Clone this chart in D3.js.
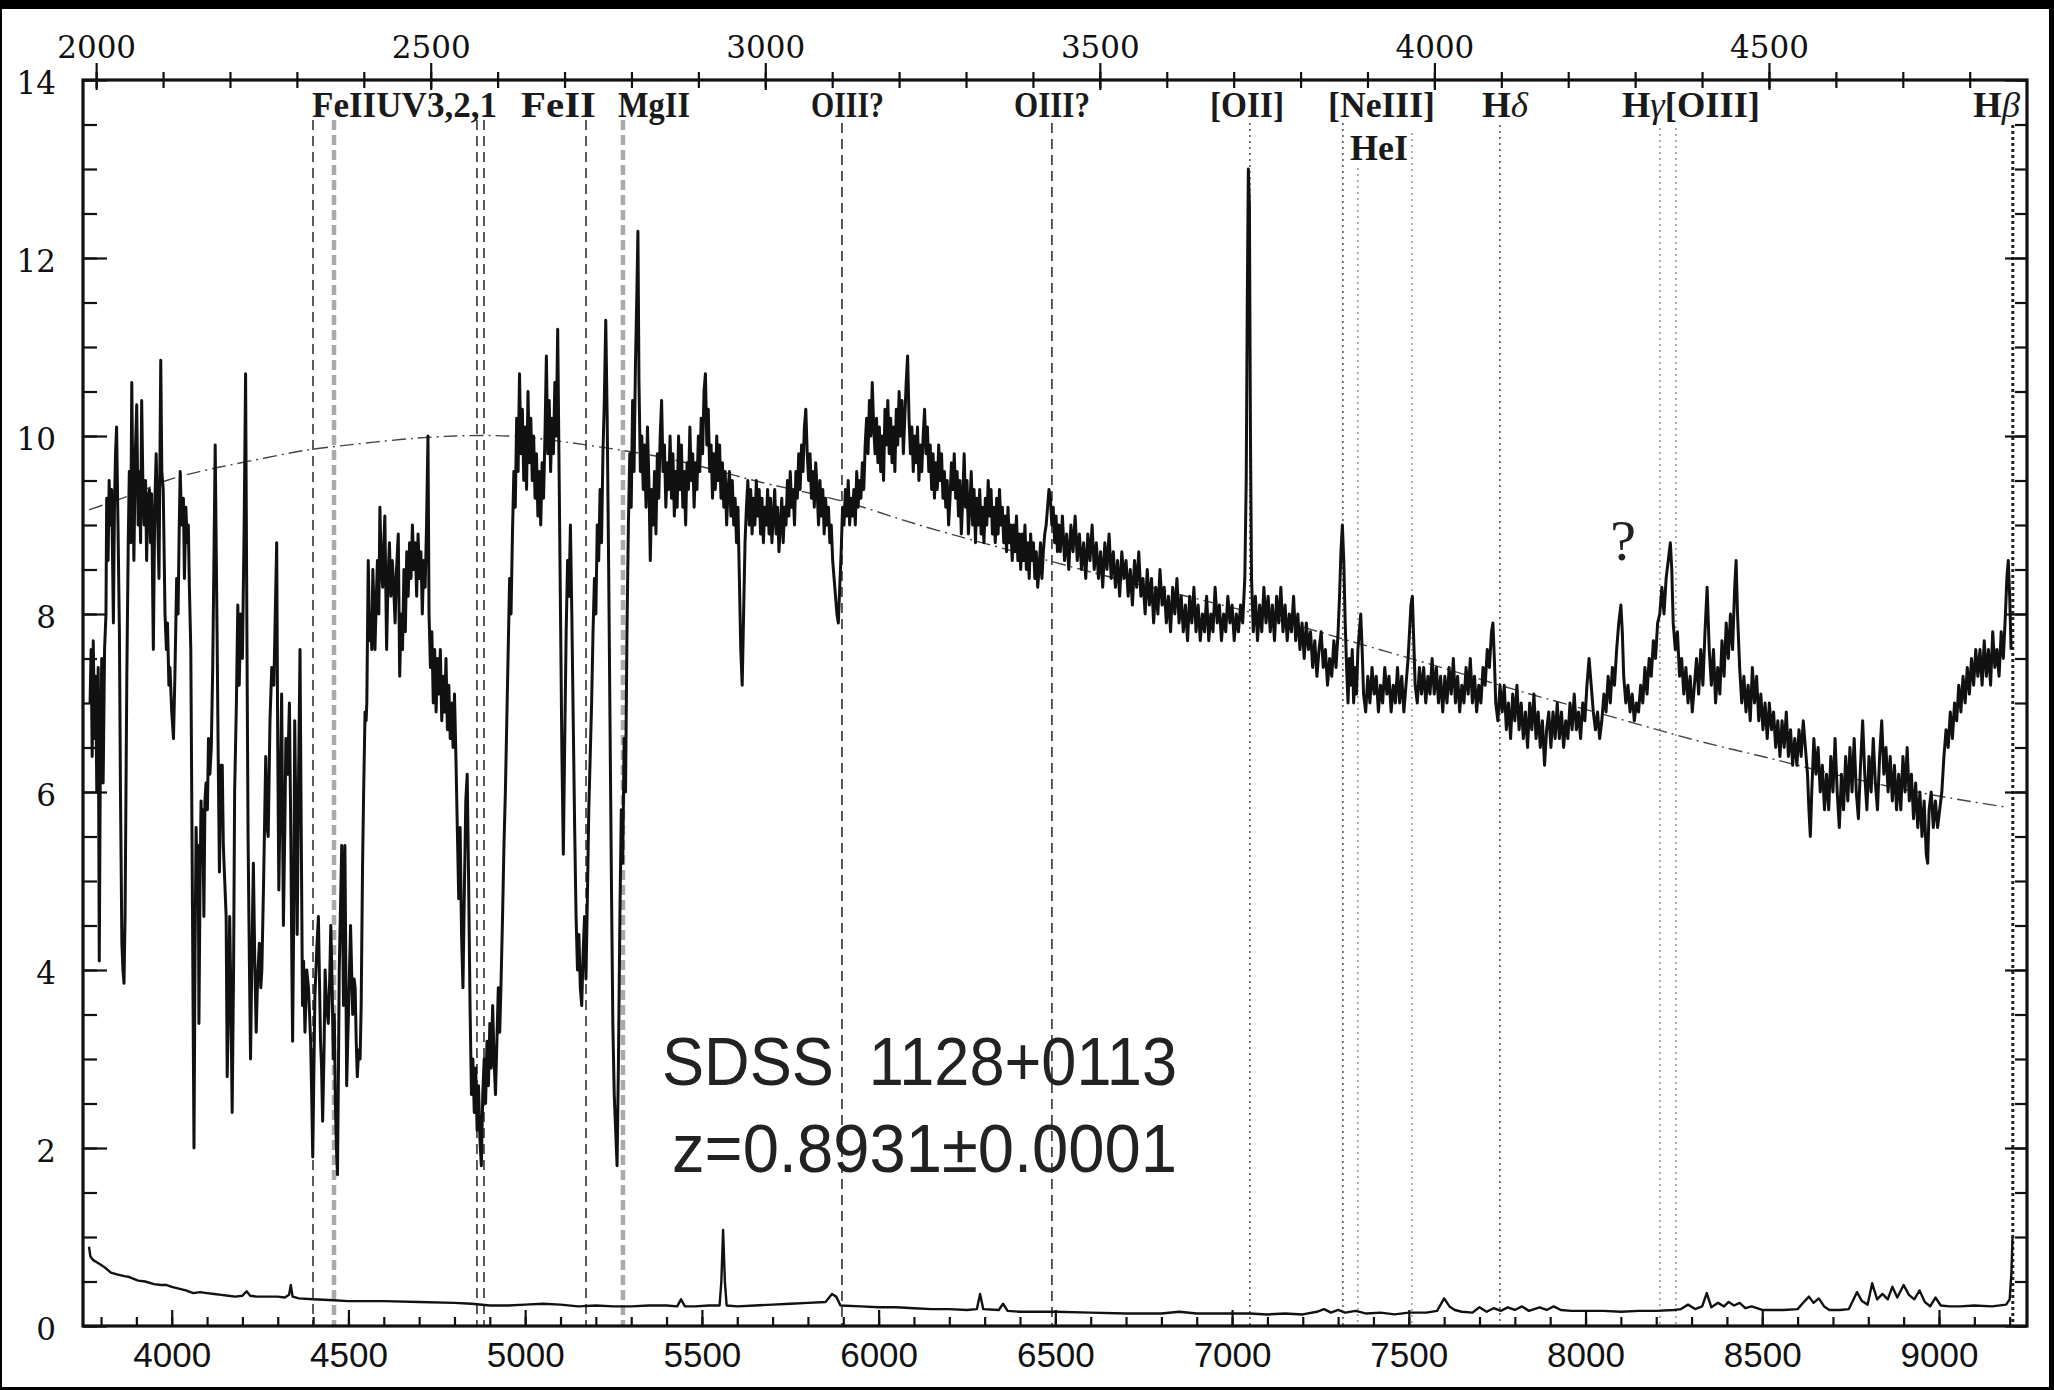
<!DOCTYPE html>
<html><head><meta charset="utf-8">
<script src="https://cdn.jsdelivr.net/npm/d3@7"></script>
<style>
html,body{margin:0;padding:0;background:#fff;}
svg{display:block;}
</style></head><body>
<svg id="chart" width="2054" height="1390"></svg>
<script>
// ---------------- data ----------------
const redshift = 0.8931;
const obsTickLabels = [4000,4500,5000,5500,6000,6500,7000,7500,8000,8500,9000];
const restTickLabels = [2000,2500,3000,3500,4000,4500];
const fluxTickLabels = [0,2,4,6,8,10,12,14];

// observed wavelength (A), flux
const spectrum = [
[3769,7.0],[3772,7.6],[3775,6.4],[3778,7.7],[3782,6.6],[3785,7.3],[3788,6.0],[3792,7.4],[3795,4.1],[3798,6.3],[3802,7.5],[3806,6.1],[3810,7.6],[3814,8.0],[3816,9.3],[3820,8.6],[3823,9.5],[3826,9.0],[3830,9.4],[3835,7.9],[3838,9.2],[3841,9.8],[3844,10.1],[3848,9.0],[3852,7.8],[3855,6.0],[3859,4.3],[3862,4.0],[3865,3.85],[3868,4.6],[3873,7.3],[3877,8.8],[3880,9.6],[3884,8.8],[3887,10.6],[3890,9.4],[3893,8.6],[3897,9.8],[3901,10.35],[3905,9.0],[3908,9.6],[3912,8.8],[3915,10.4],[3919,9.3],[3922,9.0],[3926,9.5],[3929,8.6],[3933,9.3],[3937,9.4],[3940,8.8],[3943,9.35],[3948,7.6],[3952,9.2],[3956,9.8],[3960,9.1],[3964,8.4],[3969,10.85],[3972,9.6],[3976,9.4],[3981,8.0],[3985,7.6],[3988,7.9],[3992,7.2],[3995,7.4],[4000,6.9],[4005,6.6],[4009,7.3],[4014,8.4],[4018,8.0],[4021,8.9],[4024,9.6],[4028,9.0],[4033,9.3],[4036,8.4],[4040,9.2],[4044,8.8],[4047,9.0],[4050,8.3],[4054,7.6],[4059,4.5],[4063,2.0],[4066,4.2],[4069,5.6],[4072,5.0],[4075,5.4],[4077,3.4],[4080,4.9],[4083,5.9],[4086,5.3],[4088,5.8],[4091,4.6],[4094,5.9],[4097,6.1],[4101,5.8],[4104,6.6],[4108,6.2],[4112,6.5],[4116,7.4],[4120,8.8],[4123,9.9],[4126,8.7],[4129,7.5],[4132,6.2],[4135,5.1],[4139,6.3],[4143,6.3],[4146,5.4],[4150,5.0],[4154,4.6],[4157,2.8],[4160,3.5],[4164,4.6],[4167,3.8],[4171,2.4],[4175,4.0],[4178,6.0],[4183,7.0],[4187,8.1],[4191,7.2],[4195,8.0],[4200,7.5],[4205,9.0],[4209,10.7],[4213,7.6],[4216,5.5],[4220,4.0],[4223,3.0],[4227,4.2],[4231,5.2],[4235,4.1],[4239,3.3],[4243,3.9],[4248,4.3],[4252,3.8],[4255,4.0],[4260,5.0],[4266,6.4],[4270,5.6],[4273,5.5],[4278,6.8],[4283,7.4],[4289,7.2],[4293,8.0],[4297,8.8],[4300,6.5],[4303,4.9],[4307,6.0],[4311,7.1],[4314,5.5],[4316,4.5],[4320,5.6],[4323,6.6],[4328,6.2],[4333,7.0],[4337,5.5],[4340,4.0],[4342,3.2],[4345,4.5],[4348,6.8],[4352,5.5],[4355,4.4],[4359,6.2],[4363,7.6],[4366,5.8],[4370,3.6],[4373,4.1],[4377,3.3],[4382,4.0],[4387,3.8],[4390,3.5],[4393,3.2],[4396,2.6],[4399,1.9],[4402,2.8],[4405,3.7],[4410,4.2],[4415,4.6],[4418,3.9],[4421,3.2],[4424,2.9],[4427,2.3],[4431,3.1],[4434,4.0],[4438,3.6],[4443,3.4],[4447,3.9],[4450,4.5],[4454,3.8],[4457,3.0],[4460,3.5],[4463,2.5],[4466,2.0],[4469,1.7],[4472,3.0],[4474,4.0],[4478,4.8],[4481,5.4],[4484,4.4],[4486,3.6],[4488,4.6],[4490,5.4],[4493,3.8],[4495,2.7],[4498,3.2],[4500,3.5],[4503,4.0],[4506,4.5],[4509,4.0],[4512,3.5],[4516,3.9],[4519,3.8],[4522,3.2],[4525,2.8],[4529,3.1],[4533,3.0],[4536,3.6],[4540,5.2],[4543,6.0],[4547,6.9],[4550,6.8],[4552,7.0],[4556,8.6],[4560,7.7],[4563,8.0],[4566,7.6],[4569,8.5],[4572,8.1],[4575,7.6],[4579,8.2],[4582,8.6],[4586,8.0],[4589,9.2],[4593,8.5],[4597,8.3],[4600,8.8],[4603,9.1],[4606,8.2],[4608,7.6],[4612,8.4],[4616,8.8],[4620,8.2],[4624,8.6],[4627,8.4],[4632,7.9],[4636,8.5],[4641,8.9],
[4645,7.3],[4649,8.0],[4653,7.6],[4657,8.5],[4661,7.8],[4665,8.7],[4669,8.2],[4673,8.8],[4677,8.4],[4681,9.0],[4685,8.5],[4689,8.8],[4693,8.2],[4697,8.9],[4701,8.4],[4705,8.7],[4709,8.0],[4713,8.6],[4717,8.3],[4721,9.0],[4725,10.0],[4728,8.0],[4732,7.4],[4736,7.8],[4740,7.0],[4744,7.6],[4748,6.9],[4752,7.5],[4756,7.1],[4760,7.6],[4764,6.8],[4768,7.3],[4772,6.9],[4776,7.5],[4780,6.7],[4784,7.2],[4788,6.6],[4792,7.0],[4796,6.5],[4800,7.1],[4804,6.4],[4808,5.6],[4812,4.8],[4816,5.6],[4820,4.4],[4824,3.8],[4828,4.9],[4832,5.9],[4836,6.2],[4840,5.0],[4844,3.6],[4848,2.6],[4852,3.0],[4856,2.4],[4860,2.9],[4864,2.2],[4868,2.7],[4872,2.1],[4876,1.8],[4880,2.6],[4884,3.0],[4888,2.5],[4892,3.2],[4896,2.7],[4900,3.4],[4904,2.9],[4908,3.6],[4912,3.0],[4916,2.6],[4920,3.2],[4924,3.8],[4928,3.3],[4932,3.9],[4936,4.6],[4940,5.4],[4944,6.0],[4948,6.8],[4952,7.6],[4956,8.4],[4960,8.0],[4964,8.9],[4968,9.6],[4972,9.2],[4976,10.2],[4980,9.6],[4984,10.7],[4988,9.8],[4992,10.3],[4996,9.5],[5000,10.1],[5004,9.4],[5008,10.5],[5012,9.7],[5016,10.2],[5020,9.5],[5024,10.0],[5028,9.3],[5032,9.8],[5036,9.1],[5040,9.6],[5044,9.0],[5048,9.7],[5052,9.3],[5056,10.0],[5060,10.9],[5064,9.8],[5068,10.4],[5072,9.6],[5076,10.2],[5080,9.8],[5084,10.6],[5088,10.0],[5092,11.2],[5096,9.6],[5100,8.0],[5104,6.4],[5108,5.3],[5112,6.6],[5116,7.8],[5120,8.6],[5124,8.2],[5128,9.0],[5132,8.0],[5136,6.8],[5140,5.6],[5144,4.6],[5148,4.0],[5152,4.4],[5156,3.8],[5160,3.6],[5164,4.2],[5168,4.6],[5172,3.9],[5176,4.8],[5180,5.8],[5184,6.4],[5188,7.0],[5192,7.8],[5196,8.4],[5200,8.0],[5204,9.0],[5208,8.6],[5212,9.4],[5216,8.8],[5220,9.8],[5224,10.4],[5228,11.3],[5232,10.2],[5236,8.6],[5240,6.8],[5244,5.0],[5248,3.4],[5252,2.6],[5256,2.2],[5260,1.8],[5264,3.0],[5268,4.6],[5272,5.8],[5276,5.2],[5280,6.6],[5284,6.0],[5288,7.8],[5292,9.0],[5296,9.8],[5300,9.2],[5304,10.4],[5308,9.6],[5312,10.8],[5316,11.6],[5319,12.3],[5322,10.6],[5326,9.6],[5330,10.0],[5334,9.4],[5338,9.9],[5342,9.2],[5346,10.1],[5350,9.5],[5354,8.6],[5358,9.4],[5362,9.0],[5366,9.6],[5370,8.9],[5374,9.8],[5378,9.3],[5382,10.0],[5386,10.4],[5390,9.6],[5394,9.9],[5398,9.2],[5402,9.7],[5406,9.4],[5410,10.0],[5414,9.3],[5418,9.8],[5422,9.1],[5426,9.6],[5430,9.2],[5434,10.0],[5438,9.4],[5442,9.9],[5446,9.2],[5450,9.6],[5454,9.0],[5458,9.7],[5462,9.4],[5466,10.1],[5470,9.5],[5474,9.8],[5478,9.2],[5482,9.7],[5486,9.4],[5490,10.0],[5494,9.6],[5498,10.2],[5502,9.8],[5506,10.5],[5510,10.7],[5514,9.9],[5518,10.3],[5522,9.6],[5526,9.9],[5530,9.3],[5534,9.8],[5538,9.4],[5542,10.0],[5546,9.5],[5550,9.9],[5554,9.3],[5558,9.7],[5562,9.2],[5566,9.6],[5570,9.0],[5574,9.4],[5578,9.6],[5582,9.1],[5586,9.5],[5590,9.0],[5594,9.3],[5598,8.8],[5602,9.2],[5606,8.4],[5610,7.6],[5614,7.2],[5618,8.0],[5622,8.8],[5626,9.2],[5630,9.5],[5634,9.0],[5638,9.4],[5642,8.9],[5646,9.3],[5650,9.0],[5654,9.5],[5658,9.1],[5662,9.4],[5666,8.9],[5670,9.3],[5674,8.8],[5678,9.2],[5682,9.0],[5686,9.4],[5690,8.9],[5694,9.3],[5698,8.8],[5702,9.1],[5706,9.4],[5710,8.9],[5714,9.2],[5718,8.7],[5722,9.0],[5726,9.3],[5730,8.8],[5734,9.2],[5738,9.0],[5742,9.5],[5746,9.1],[5750,9.6],[5754,9.2],[5758,9.4],[5762,9.0],[5766,9.6],[5770,9.3],[5774,9.8],[5778,9.4],[5782,9.9],[5786,9.6],[5790,10.1],[5794,10.3],[5798,9.8],[5802,9.5],[5806,9.8],[5810,9.3],[5814,9.6],[5818,9.2],[5822,9.7],[5826,9.4],[5830,9.0],[5834,9.5],[5838,9.1],[5842,9.4],[5846,8.9],[5850,9.3],[5854,9.0],[5858,9.2],[5862,8.8],[5866,9.0],[5870,8.6],[5874,8.4],[5878,8.2],[5882,8.0],[5886,7.9],[5890,8.3],[5894,8.7],[5898,9.2],[5902,9.0],[5906,9.4],[5910,9.1],[5914,9.5],[5918,9.0],[5922,9.3],[5926,9.1],[5930,9.4],[5934,9.0],[5938,9.6],[5942,9.2],[5946,9.5],[5950,9.3],[5954,9.7],[5958,9.4],[5962,9.9],[5966,10.2],[5970,9.8],[5974,10.4],[5978,10.0],[5982,10.6],[5986,10.1],[5990,9.8],[5994,10.2],[5998,9.7],[6002,10.1],[6006,9.6],[6010,10.0],[6014,9.5],[6018,10.3],[6022,9.9],[6026,10.4],[6030,9.8],[6034,10.2],[6038,9.7],[6042,10.1],[6046,9.6],[6050,10.3],[6054,9.9],[6058,10.5],[6062,10.0],[6066,10.4],[6070,9.8],[6074,10.2],[6078,10.6],[6082,10.9],[6086,10.2],[6090,9.8],[6094,10.1],[6098,9.6],[6102,10.0],[6106,9.7],[6110,10.1],[6114,9.5],[6118,9.9],[6122,9.6],[6126,10.0],[6130,10.3],[6134,9.8],[6138,10.1],[6142,9.6],[6146,9.9],[6150,9.4],[6154,9.8],[6158,9.3],[6162,9.7],[6166,9.4],[6170,9.9],[6174,9.5],[6178,9.8],[6182,9.3],[6186,9.6],[6190,9.2],[6194,9.5],[6198,9.0],[6202,9.3],[6206,9.7],[6210,9.4],[6214,9.8],[6218,9.3],[6222,9.6],[6226,9.1],[6230,9.5],[6234,8.9],[6238,9.3],[6242,9.8],[6246,9.2],[6250,9.5],[6254,8.9],[6258,9.2],[6262,9.6],[6266,9.0],[6270,9.4],[6274,8.8],[6278,9.3],[6282,9.0],[6286,9.4],[6290,8.9],[6294,9.2],[6298,8.8],[6302,9.3],[6306,9.0],[6310,9.5],[6314,9.1],[6318,9.4],[6322,8.9],[6326,9.2],[6330,8.8],[6334,9.3],[6338,8.9],[6342,9.4],[6346,9.0],[6350,9.2],[6354,8.8],[6358,9.1],[6362,8.7],[6366,9.2],[6370,8.8],[6374,9.0],[6378,8.6],[6382,9.0],[6386,8.7],[6390,9.1],[6394,8.6],[6398,8.9],[6402,8.5],[6406,8.9],[6410,8.6],[6414,9.0],[6418,8.5],[6422,8.8],[6426,8.4],[6430,8.9],[6434,8.6],[6438,8.8],[6442,8.4],[6446,8.7],[6450,8.3],[6454,8.5],[6458,8.8],[6462,8.4],[6466,8.7],[6470,8.9],[6474,9.0],[6478,9.2],[6482,9.4],[6486,9.3],[6490,9.0],[6494,9.2],[6498,8.8],[6502,9.1],[6506,8.7],[6510,9.0],
[6514,8.7],[6520,9.1],[6526,8.6],[6532,8.9],[6538,8.5],[6544,9.0],[6550,8.7],[6556,9.1],[6562,8.6],[6568,8.9],[6574,8.5],[6580,8.8],[6586,8.4],[6592,8.9],[6598,8.6],[6604,9.0],[6610,8.5],[6616,8.8],[6622,8.4],[6628,8.7],[6634,8.3],[6640,8.8],[6646,8.5],[6652,8.9],[6658,8.4],[6664,8.7],[6670,8.3],[6676,8.6],[6682,8.2],[6688,8.7],[6694,8.4],[6700,8.6],[6706,8.2],[6712,8.5],[6718,8.1],[6724,8.6],[6730,8.3],[6736,8.7],[6742,8.2],[6748,8.4],[6754,8.0],[6760,8.5],[6766,8.1],[6772,8.4],[6778,7.9],[6784,8.3],[6790,8.0],[6796,8.5],[6802,8.1],[6808,8.3],[6814,7.9],[6820,8.2],[6826,7.8],[6832,8.3],[6838,8.0],[6844,8.4],[6850,7.9],[6856,8.2],[6862,7.8],[6868,8.1],[6874,7.7],[6880,8.2],[6886,7.9],[6892,8.3],[6898,7.8],[6904,8.1],[6910,7.7],[6916,8.0],[6922,7.8],[6928,8.2],[6934,7.7],[6940,8.0],[6946,7.8],[6952,8.3],[6958,7.9],[6964,8.1],[6970,7.7],[6976,8.0],[6982,7.8],[6988,8.2],[6994,7.9],[7000,8.1],[7006,7.7],[7012,8.0],[7018,7.8],[7024,8.1],[7030,7.9],[7036,8.4],[7040,9.5],[7043,11.5],[7046,13.0],[7049,12.6],[7052,10.0],[7055,8.4],[7060,7.8],[7066,8.2],[7072,7.7],[7078,8.1],[7084,7.8],[7090,8.3],[7096,7.9],[7102,8.2],[7108,7.8],[7114,8.1],[7120,7.7],[7126,8.2],[7132,7.9],[7138,8.3],[7144,7.8],[7150,8.1],[7156,7.7],[7162,8.0],[7168,7.8],[7174,8.2],[7180,7.7],[7186,8.0],[7192,7.6],[7198,7.9],[7204,7.5],[7210,7.9],[7216,7.6],[7222,7.8],[7228,7.4],[7234,7.7],[7240,7.3],[7246,7.6],[7252,7.8],[7258,7.4],[7264,7.6],[7270,7.2],[7276,7.5],[7282,7.3],[7288,7.7],[7294,7.4],[7300,7.8],[7304,8.2],[7308,8.7],[7312,9.0],[7316,8.6],[7320,7.9],[7324,7.4],[7328,7.0],[7332,7.5],[7336,7.2],[7340,7.6],[7344,7.0],[7348,7.4],[7352,7.1],[7356,7.6],[7360,7.8],[7364,8.0],[7368,7.6],[7372,7.1],[7378,6.9],[7384,7.3],[7390,7.0],[7396,7.4],[7402,7.1],[7408,7.3],[7414,6.9],[7420,7.2],[7426,7.0],[7432,7.4],[7438,7.1],[7444,7.3],[7450,6.9],[7456,7.2],[7462,7.0],[7468,7.4],[7474,7.0],[7480,7.3],[7486,6.9],[7492,7.2],[7498,7.5],[7502,7.8],[7506,8.1],[7510,8.2],[7514,7.7],[7518,7.2],[7524,7.0],[7530,7.4],[7536,7.1],[7542,7.4],[7548,7.0],[7554,7.3],[7560,7.1],[7566,7.5],[7572,7.1],[7578,7.4],[7584,7.0],[7590,7.3],[7596,6.9],[7602,7.3],[7608,7.0],[7614,7.4],[7620,7.1],[7626,7.5],[7632,7.0],[7638,7.3],[7644,6.9],[7650,7.2],[7656,7.0],[7662,7.4],[7668,7.1],[7674,7.5],[7680,7.0],[7686,7.3],[7692,6.9],[7698,7.2],[7704,7.0],[7710,7.4],[7716,7.2],[7722,7.6],[7728,7.4],[7734,7.8],[7738,7.9],[7742,7.5],[7746,7.0],[7752,6.8],[7758,7.2],[7764,6.9],[7770,7.2],[7776,6.7],[7782,7.0],[7788,6.6],[7794,7.1],[7800,6.8],[7806,7.2],[7812,6.7],[7818,7.0],[7824,6.6],[7830,6.9],[7836,6.5],[7842,7.0],[7848,6.7],[7854,7.1],[7860,6.6],[7866,6.9],[7872,6.5],[7878,6.8],[7884,6.3],[7890,6.7],[7896,6.9],[7902,6.5],[7908,6.9],[7914,6.6],[7920,7.0],[7926,6.6],[7932,6.9],[7938,6.5],[7944,6.8],[7950,6.6],[7956,7.0],[7962,6.7],[7968,7.1],[7974,6.7],[7980,6.9],[7986,6.6],[7992,7.0],[7998,6.8],[8004,7.2],[8010,7.5],[8016,7.2],[8022,6.9],[8028,6.7],[8034,6.9],[8040,6.6],[8046,6.8],[8052,7.1],[8058,6.9],[8064,7.3],[8070,7.0],[8076,7.4],[8082,7.2],[8088,7.6],[8094,7.9],[8100,8.1],[8104,7.8],[8108,7.3],[8114,7.0],[8120,7.2],[8126,6.9],[8132,7.1],[8138,6.8],[8144,7.0],[8150,6.9],[8156,7.2],[8162,7.0],[8168,7.4],[8174,7.1],[8180,7.5],[8186,7.3],[8192,7.7],[8198,7.5],[8204,7.9],[8210,8.0],[8216,8.3],[8222,8.0],[8228,8.4],[8234,8.6],[8240,8.8],[8244,8.5],[8248,7.9],[8254,7.6],[8260,7.8],[8266,7.3],[8272,7.5],[8278,7.1],[8284,7.4],[8290,7.0],[8296,7.3],[8302,6.9],[8308,7.2],[8314,7.5],[8320,7.1],[8326,7.6],[8332,7.2],[8338,7.8],[8344,8.3],[8350,7.6],[8356,7.2],[8362,7.6],[8368,7.0],[8374,7.4],[8380,7.1],[8386,7.7],[8392,7.3],[8398,7.9],[8404,7.5],[8410,8.0],[8416,7.6],[8422,8.3],[8426,8.6],[8430,8.0],[8436,7.4],[8442,7.0],[8448,7.3],[8454,6.9],[8460,7.2],[8466,6.8],[8472,7.4],[8478,7.0],[8484,7.3],[8490,6.8],[8496,7.1],[8502,6.7],[8508,7.0],[8514,6.6],[8520,7.0],[8526,6.7],[8532,6.9],[8538,6.5],[8544,6.8],[8550,6.4],[8556,6.8],[8562,6.5],[8568,6.9],[8574,6.4],[8580,6.7],[8586,6.3],[8592,6.6],[8598,6.3],[8604,6.7],[8610,6.4],[8616,6.8],[8622,6.5],[8628,6.2],[8632,5.8],[8636,5.5],[8640,6.0],[8646,6.6],[8652,6.2],[8658,6.5],[8664,6.0],[8670,6.3],[8676,5.8],[8682,6.2],[8688,5.8],[8694,6.4],[8700,6.0],[8706,6.6],[8712,6.0],[8718,5.6],[8724,6.2],[8730,5.8],[8736,6.4],[8742,5.9],[8748,6.5],[8754,6.0],[8760,6.6],[8766,6.0],[8772,5.7],[8778,6.3],[8784,6.8],[8790,6.2],[8796,5.8],[8802,6.4],[8808,6.0],[8814,6.6],[8820,6.1],[8826,5.8],[8832,6.4],[8838,6.8],[8844,6.2],[8850,6.5],[8856,6.0],[8862,6.4],[8868,5.9],[8874,6.3],[8880,5.8],[8886,6.2],[8892,5.8],[8898,6.4],[8904,6.0],[8910,6.5],[8916,5.9],[8922,6.2],[8928,5.7],[8934,6.1],[8940,5.6],[8946,6.0],[8952,5.5],[8958,5.9],[8964,5.3],[8968,5.2],[8972,5.8],[8978,6.0],[8984,5.6],[8990,5.9],[8996,5.6],[9002,5.8],[9008,6.0],[9014,6.4],[9020,6.7],[9026,6.5],[9032,6.9],[9038,6.6],[9044,7.0],[9050,6.8],[9056,7.2],[9062,6.9],[9068,7.3],[9074,7.0],[9080,7.4],[9086,7.1],[9092,7.5],[9098,7.2],[9104,7.6],[9110,7.3],[9116,7.6],[9122,7.2],[9128,7.7],[9134,7.3],[9140,7.6],[9146,7.2],[9152,7.8],[9158,7.4],[9164,7.6],[9170,7.3],[9176,7.8],[9182,7.5],[9188,8.0],[9192,8.4],[9196,8.6],[9200,8.2],[9204,7.6]
];

// error / sky spectrum at the bottom
const skySpectrum = [
[3766,0.89],[3770,0.78],[3778,0.74],[3795,0.70],[3810,0.66],[3828,0.60],[3845,0.58],[3866,0.56],[3880,0.55],[3905,0.51],[3925,0.50],[3950,0.47],[3970,0.46],[3986,0.46],[4000,0.44],[4020,0.42],[4040,0.40],[4061,0.37],[4080,0.38],[4100,0.37],[4120,0.36],[4140,0.35],[4160,0.34],[4180,0.33],[4200,0.34],[4212,0.39],[4222,0.34],[4240,0.33],[4270,0.33],[4300,0.33],[4320,0.32],[4332,0.35],[4337,0.46],[4342,0.33],[4360,0.31],[4400,0.30],[4458,0.29],[4500,0.28],[4600,0.28],[4700,0.27],[4800,0.26],[4849,0.25],[4900,0.23],[4950,0.23],[5000,0.24],[5050,0.25],[5100,0.24],[5150,0.22],[5200,0.23],[5250,0.22],[5300,0.22],[5350,0.23],[5400,0.23],[5430,0.22],[5441,0.30],[5452,0.22],[5480,0.22],[5520,0.23],[5550,0.23],[5555,0.5],[5560,1.08],[5565,0.5],[5570,0.23],[5600,0.22],[5650,0.23],[5700,0.24],[5750,0.25],[5800,0.26],[5850,0.27],[5868,0.36],[5880,0.33],[5892,0.23],[5950,0.22],[6000,0.21],[6050,0.21],[6100,0.20],[6150,0.19],[6200,0.19],[6250,0.18],[6278,0.19],[6287,0.36],[6296,0.19],[6340,0.18],[6352,0.25],[6365,0.17],[6400,0.16],[6500,0.16],[6600,0.15],[6700,0.14],[6800,0.14],[6850,0.16],[6900,0.14],[7000,0.14],[7050,0.14],[7100,0.13],[7150,0.14],[7200,0.13],[7240,0.16],[7260,0.19],[7280,0.15],[7300,0.18],[7320,0.15],[7350,0.17],[7380,0.14],[7420,0.15],[7460,0.13],[7500,0.15],[7550,0.15],[7580,0.17],[7600,0.31],[7615,0.22],[7630,0.18],[7650,0.16],[7680,0.15],[7700,0.21],[7720,0.16],[7740,0.20],[7760,0.17],[7780,0.21],[7800,0.18],[7820,0.22],[7840,0.17],[7870,0.21],[7890,0.18],[7910,0.22],[7930,0.18],[7960,0.17],[8000,0.17],[8050,0.17],[8100,0.16],[8150,0.17],[8200,0.17],[8250,0.18],[8270,0.19],[8290,0.24],[8310,0.19],[8330,0.22],[8343,0.37],[8356,0.21],[8375,0.26],[8392,0.22],[8405,0.27],[8420,0.23],[8436,0.26],[8452,0.20],[8470,0.22],[8500,0.18],[8530,0.18],[8560,0.18],[8600,0.19],[8620,0.28],[8632,0.33],[8645,0.26],[8660,0.31],[8675,0.22],[8690,0.18],[8720,0.18],[8745,0.19],[8768,0.38],[8782,0.28],[8798,0.24],[8811,0.48],[8825,0.30],[8840,0.36],[8855,0.30],[8868,0.44],[8882,0.32],[8900,0.46],[8915,0.35],[8930,0.30],[8945,0.40],[8960,0.27],[8975,0.22],[8990,0.32],[9005,0.23],[9030,0.22],[9060,0.22],[9100,0.23],[9150,0.22],[9190,0.24],[9200,0.30],[9205,0.6],[9208,1.0]
];

// smooth continuum fit (dash-dot)
const continuum = [
[3766,9.17],[3900,9.36],[3986,9.5],[4100,9.62],[4222,9.72],[4350,9.82],[4457,9.88],[4646,9.96],[4800,10.0],[4950,10.0],[5100,9.94],[5256,9.85],[5400,9.75],[5553,9.6],[5700,9.45],[5886,9.28],[6050,9.08],[6220,8.88],[6480,8.6],[6739,8.33],[7042,8.03],[7220,7.83],[7400,7.62],[7591,7.4],[7800,7.15],[7962,6.97],[8150,6.76],[8332,6.56],[8520,6.38],[8703,6.2],[8900,6.03],[9050,5.92],[9190,5.83]
];

// marked line rest wavelengths (A) and labels
const markerRest = [2324.1,2355.5,2569.1,2579.6,2732.1,2787.3,3114.6,3428.4,3724.2,3863.2,3885.6,3966.3,4097.8,4336.9,4360.8,4864.4];
const markerKind = ["dash","multi","dash","dash","dash","multi","dash","dash","dot","dot","dotLight","dotLight","dot","dotLight","dotLight","dotHeavy"];
const lineLabels = ["FeIIUV3,2,1","FeII","MgII","OIII?","OIII?","[OII]","[NeIII]","HeI","H\u03B4","H\u03B3[OIII]","H\u03B2"];
const titleLines = ["SDSS  1128+0113","z=0.8931\u00B10.0001"];
const questionLabel = "?";

// ---------------- layout ----------------
const W = 2054, H = 1390;
const plot = {left: 83, right: 2027, top: 80, bottom: 1326};
const markerTop = [120,120,120,120,120,120,123,123,123,123,168,133,125,128,128,125];
const labelPos = [ // [x-left, baseline, width]
  [312,117,185],[521,117,75],[618,117,72],[811,117,73],[1014,117,76],[1210,117,74],
  [1328,117,107],[1350,160,58],[1482,117,46],[1622,117,138],[1973,117,47]
];

const svg = d3.select("#chart");
svg.append("rect").attr("width", W).attr("height", H).attr("fill", "#fff");

const x = d3.scaleLinear().domain([3749, 9249]).range([plot.left, plot.right]);
const xRest = d3.scaleLinear().domain([3749/(1+redshift), 9249/(1+redshift)]).range([plot.left, plot.right]);
const y = d3.scaleLinear().domain([0, 14]).range([plot.bottom, plot.top]);

svg.append("clipPath").attr("id","clip").append("rect")
  .attr("x", plot.left).attr("y", plot.top).attr("width", plot.right-plot.left).attr("height", plot.bottom-plot.top);

// marker lines
const styles = {
  dash:     {stroke:"#333", width:1.6, dash:"10,6"},
  multi:    {stroke:"#aaa", width:4.5, dash:"10,5"},
  dot:      {stroke:"#555", width:1.6, dash:"2,4"},
  dotLight: {stroke:"#9a9a9a", width:1.6, dash:"2,4"},
  dotHeavy: {stroke:"#222", width:3.0, dash:"3,3"}
};
svg.append("g").selectAll("line").data(markerRest).join("line")
  .attr("x1", d => x(d*(1+redshift))).attr("x2", d => x(d*(1+redshift)))
  .attr("y1", (d,i) => markerTop[i]).attr("y2", plot.bottom)
  .attr("stroke", (d,i) => styles[markerKind[i]].stroke)
  .attr("stroke-width", (d,i) => styles[markerKind[i]].width)
  .attr("stroke-dasharray", (d,i) => styles[markerKind[i]].dash);

// continuum
const line = d3.line().x(d => x(d[0])).y(d => y(d[1]));
svg.append("path").datum(continuum)
  .attr("d", line.curve(d3.curveNatural))
  .attr("fill","none").attr("stroke","#444").attr("stroke-width",1.4)
  .attr("stroke-dasharray","14,5,2,5");

const line2 = d3.line().x(d => x(d[0])).y(d => y(d[1]));
// sky spectrum
svg.append("path").datum(skySpectrum).attr("clip-path","url(#clip)")
  .attr("d", line2).attr("fill","none").attr("stroke","#111").attr("stroke-width",2.4)
  .attr("stroke-linejoin","round");
// object spectrum
svg.append("path").datum(spectrum).attr("clip-path","url(#clip)")
  .attr("d", line2).attr("fill","none").attr("stroke","#111").attr("stroke-width",3.0)
  .attr("stroke-linejoin","round");

// ---------------- axes ----------------
const minorObs = d3.range(3800, 9201, 100);
const minorRest = d3.range(2000, 4900, 100);
const minorFlux = d3.range(0, 14.01, 0.5);

function styleAxis(g){ g.select(".domain").remove(); g.selectAll(".tick line").attr("stroke","#111").attr("stroke-width",2.2); }

// bottom
svg.append("g").attr("transform",`translate(0,${plot.bottom})`)
  .call(d3.axisBottom(x).tickValues(minorObs).tickFormat("").tickSizeInner(-9).tickSizeOuter(0)).call(styleAxis);
const gb = svg.append("g").attr("transform",`translate(0,${plot.bottom})`)
  .call(d3.axisBottom(x).tickValues(obsTickLabels).tickFormat(d3.format("d")).tickSizeInner(-16).tickSizeOuter(0).tickPadding(16)).call(styleAxis);
gb.selectAll("text").attr("font-family","'Liberation Sans', Arial, sans-serif").attr("font-size",35).attr("fill","#111");

// top (rest frame)
svg.append("g").attr("transform",`translate(0,${plot.top})`)
  .call(d3.axisTop(xRest).tickValues(minorRest).tickFormat("").tickSizeInner(8).tickSizeOuter(0)).call(styleAxis);
svg.append("g").attr("transform",`translate(0,${plot.top})`)
  .call(d3.axisBottom(xRest).tickValues(minorRest).tickFormat("").tickSizeInner(8).tickSizeOuter(0)).call(styleAxis);
const gt = svg.append("g").attr("transform",`translate(0,${plot.top})`)
  .call(d3.axisTop(xRest).tickValues(restTickLabels).tickFormat(d3.format("d")).tickSizeInner(17).tickSizeOuter(0).tickPadding(5)).call(styleAxis);
gt.selectAll("text").attr("font-family","'DejaVu Serif', serif").attr("font-size",31).attr("fill","#111");
svg.append("g").attr("transform",`translate(0,${plot.top})`)
  .call(d3.axisBottom(xRest).tickValues(restTickLabels).tickFormat("").tickSizeInner(10).tickSizeOuter(0)).call(styleAxis);

// left
svg.append("g").attr("transform",`translate(${plot.left},0)`)
  .call(d3.axisLeft(y).tickValues(minorFlux).tickFormat("").tickSizeInner(-14).tickSizeOuter(0)).call(styleAxis);
const gl = svg.append("g").attr("transform",`translate(${plot.left},0)`)
  .call(d3.axisLeft(y).tickValues(fluxTickLabels).tickFormat(d3.format("d")).tickSizeInner(-24).tickSizeOuter(0).tickPadding(27)).call(styleAxis);
gl.selectAll("text").attr("font-family","'DejaVu Serif', serif").attr("font-size",31).attr("fill","#111").attr("dy","0.45em");

// right
svg.append("g").attr("transform",`translate(${plot.right},0)`)
  .call(d3.axisRight(y).tickValues(minorFlux).tickFormat("").tickSizeInner(-12).tickSizeOuter(0)).call(styleAxis);
svg.append("g").attr("transform",`translate(${plot.right},0)`)
  .call(d3.axisRight(y).tickValues(fluxTickLabels).tickFormat("").tickSizeInner(-22).tickSizeOuter(0)).call(styleAxis);

// frame
svg.append("rect").attr("x",plot.left).attr("y",plot.top)
  .attr("width",plot.right-plot.left).attr("height",plot.bottom-plot.top)
  .attr("fill","none").attr("stroke","#111").attr("stroke-width",3.2);

// ---------------- labels ----------------
const lab = svg.append("g").attr("font-family","'Liberation Serif','Times New Roman',serif")
  .attr("font-size",35).attr("font-weight","bold").attr("fill","#1a1a1a");
lineLabels.forEach((t,i) => {
  const [lx, ly, lw] = labelPos[i];
  const el = lab.append("text").attr("x",lx).attr("y",ly)
    .attr("textLength",lw).attr("lengthAdjust","spacingAndGlyphs");
  // Greek letters in italic
  const parts = t.split(/([\u03B2\u03B3\u03B4])/).filter(s => s.length);
  parts.forEach(p => {
    const ts = el.append("tspan").text(p);
    if (/[\u03B2\u03B3\u03B4]/.test(p)) ts.attr("font-style","italic").attr("font-weight","normal");
  });
});

svg.append("text").attr("x",1623).attr("y",560).attr("text-anchor","middle")
  .attr("font-family","'Liberation Serif',serif").attr("font-size",58).attr("fill","#222")
  .text(questionLabel);

const tl = svg.append("g").attr("font-family","'Liberation Sans', Arial, sans-serif")
  .attr("font-size",68).attr("fill","#222").attr("font-weight","normal");
tl.append("text").attr("x",662).attr("y",1085).attr("textLength",515).attr("lengthAdjust","spacingAndGlyphs")
  .style("white-space","pre").text(titleLines[0]);
tl.append("text").attr("x",672).attr("y",1172).attr("textLength",505).attr("lengthAdjust","spacingAndGlyphs")
  .text(titleLines[1]);

// black border of the original scan
svg.append("rect").attr("x",0).attr("y",0).attr("width",W).attr("height",9).attr("fill","#000");
svg.append("rect").attr("x",0).attr("y",H-3).attr("width",W).attr("height",3).attr("fill","#000");
svg.append("rect").attr("x",W-5).attr("y",0).attr("width",5).attr("height",H).attr("fill","#000");
svg.append("rect").attr("x",0).attr("y",0).attr("width",2).attr("height",H).attr("fill","#000");
</script>
</body></html>
